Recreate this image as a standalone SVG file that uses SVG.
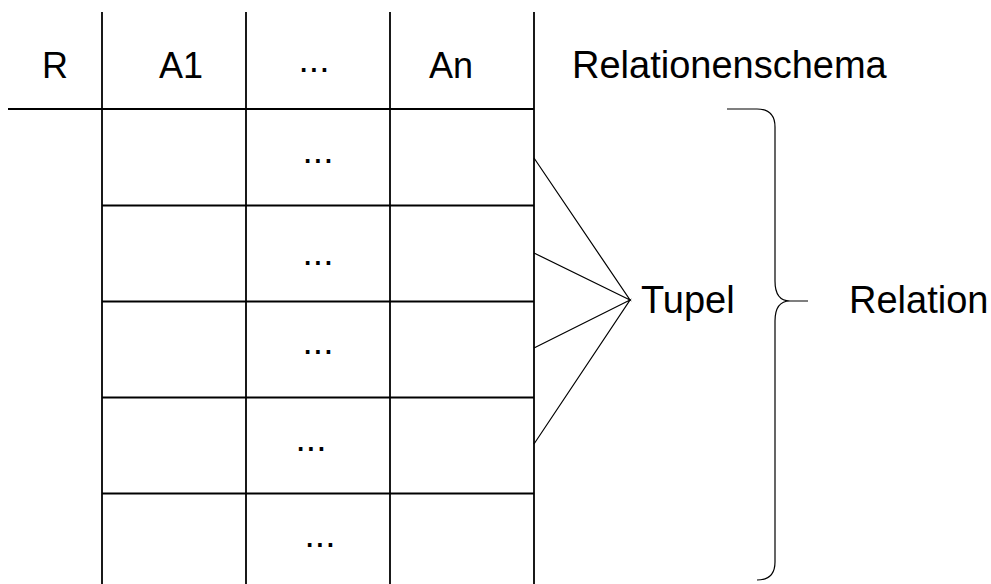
<svg xmlns="http://www.w3.org/2000/svg" width="991" height="584" viewBox="0 0 991 584">
  <style>
    .grid { stroke: #000; stroke-width: 1.8; fill: none; }
    .thin { stroke: #000; stroke-width: 1.2; fill: none; }
    .lbl { font-family: "Liberation Sans", Arial, sans-serif; font-size: 38px; fill: #000; }
    .cell { font-family: "Liberation Sans", Arial, sans-serif; font-size: 36px; fill: #000; text-anchor: middle; }
    .dots { font-family: "Liberation Sans", Arial, sans-serif; font-size: 37px; fill: #000; text-anchor: middle; }
  </style>
  <rect width="991" height="584" fill="#fff"/>

  <!-- table grid -->
  <g id="table">
    <line class="grid" x1="8" y1="109" x2="534" y2="109"/>
    <line class="grid" x1="102" y1="12" x2="102" y2="584"/>
    <line class="grid" x1="246" y1="12" x2="246" y2="584"/>
    <line class="grid" x1="390" y1="12" x2="390" y2="584"/>
    <line class="grid" x1="534" y1="12" x2="534" y2="584"/>
    <line class="grid" x1="102" y1="205.5" x2="534" y2="205.5"/>
    <line class="grid" x1="102" y1="301.5" x2="534" y2="301.5"/>
    <line class="grid" x1="102" y1="397.5" x2="534" y2="397.5"/>
    <line class="grid" x1="102" y1="493.5" x2="534" y2="493.5"/>
  </g>

  <!-- header row -->
  <g id="header">
    <text class="cell" x="55" y="78">R</text>
    <text class="cell" x="181" y="78">A1</text>
    <text class="dots" x="314" y="72">...</text>
    <text class="cell" x="451" y="78">An</text>
  </g>

  <!-- tuple rows -->
  <g id="rows">
    <text class="dots" x="318" y="163">...</text>
    <text class="dots" x="318" y="265">...</text>
    <text class="dots" x="318" y="354">...</text>
    <text class="dots" x="311" y="451">...</text>
    <text class="dots" x="320" y="547">...</text>
  </g>

  <g id="schema-label">
    <text class="lbl" x="572" y="78">Relationenschema</text>
  </g>

  <g id="tupel-label">
    <text class="lbl" x="641" y="313">Tupel</text>
  </g>

  <g id="relation-label">
    <text class="lbl" x="849" y="313">Relation</text>
  </g>

  <!-- connectors: rows to "Tupel", and the brace around the tuples -->
  <g id="connectors">
    <polyline class="thin" points="534,158 630,300 534,253"/>
    <polyline class="thin" points="534,348 630,300 534,444"/>
    <path id="brace" class="thin" d="M727,109 H757 Q775,109 775,127 V281 Q775,301 790,301 H808 M790,301 Q775,301 775,321 V562 Q775,580 757,580"/>
  </g>
</svg>
